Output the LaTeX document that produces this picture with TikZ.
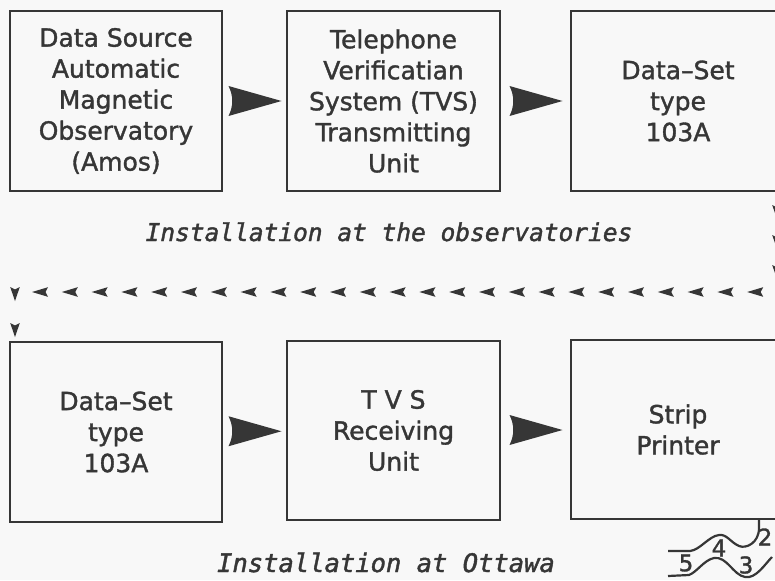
\documentclass[tikz,border=0pt]{standalone}
\usepackage{fontspec}
\setmainfont{DejaVu Sans}[FakeBold=1.4]
\newfontfamily\capfont{DejaVu Sans Mono}[FakeBold=1.6]
\usetikzlibrary{calc}
\definecolor{ink}{HTML}{363636}
\definecolor{paper}{HTML}{F8F8F8}
\tikzset{
  box/.style={draw=ink, line width=2.4pt, minimum width=212pt, minimum height=180pt,
    inner sep=0pt, align=center, text=ink, font=\fontsize{25}{31}\selectfont},
  captext/.style={text=ink, inner sep=0pt, anchor=base},
  bigarrow/.pic={\fill[ink] (27,0) -- (-26,-15) .. controls (-21,-5) and (-21,5) .. (-26,15) -- cycle;},
  larrow/.pic={\fill[ink] (-8,0) -- (8,-4.8) -- (5.5,0) -- (8,4.8) -- cycle;},
  darrow/.pic={\fill[ink] (0,7) -- (-4.8,-7) -- (0,-4.5) -- (4.8,-7) -- cycle;},
  squig/.style={draw=ink, line width=2.2pt},
  digit/.style={text=ink, inner sep=0pt, font=\fontsize{23}{23}\selectfont}
}
\begin{document}
\begin{tikzpicture}[x=1pt,y=-1pt]
\useasboundingbox (0,0) rectangle (775,580);
\fill[paper] (0,0) rectangle (775,580);
\clip (0,0) rectangle (775,580);

% top row
\node[box] (src) at (116,101) {Data Source\\Automatic\\Magnetic\\Observatory\\(Amos)};
\node[box, minimum width=213pt] (tvs) at (393.5,101) {Telephone\\Verificatian\\System (TVS)\\Transmitting\\Unit};
\node[box, minimum width=214pt] (ds) at (678,101) {Data–Set\\type\\103A};

% bottom row
\node[box] (ds2) at (116,432) {Data–Set\\type\\103A};
\node[box, minimum width=213pt, minimum height=179pt] (tvsr) at (393.5,430.5) {T V S\\Receiving\\Unit};
\node[box, minimum width=214pt, minimum height=179pt] (prn) at (678,429.5) {Strip\\Printer};

% big arrows
\pic at ($(src.east)!0.5!(tvs.west)$) {bigarrow};
\pic at ($(tvs.east)!0.5!(ds.west)$) {bigarrow};
\pic at ($(ds2.east)!0.5!(tvsr.west)$) {bigarrow};
\pic at ($(tvsr.east)!0.5!(prn.west)$) {bigarrow};

% dotted arrow line from observatories to Ottawa
\foreach \y in {212,242,272} \pic at (777,\y) {darrow};
\foreach \i in {0,...,24} \pic at ({40+\i*29.8},292) {larrow};
\pic at (15,294) {darrow};
\pic at (15,330) {darrow};

% captions
\node[captext, font=\capfont\itshape\fontsize{24.5}{24.5}\selectfont] (cap1) at (389,241) {Installation at the observatories};
\node[captext, font=\capfont\itshape\fontsize{25.5}{25.5}\selectfont] (cap2) at (386,572) {Installation at Ottawa};

% paper tape squiggle
\draw[squig] (759,519) -- (759,528) .. controls (759,543) and (746,549) .. (739,546)
  .. controls (730,542) and (727,534) .. (719,535)
  .. controls (709,536) and (700,550) .. (690,551) -- (668,551);
\draw[squig] (668,576) -- (689,575) .. controls (697,572) and (704,560) .. (714,558)
  .. controls (727,556) and (733,575) .. (745,577)
  .. controls (756,579) and (765,564) .. (772,557);
\node[digit] (d5) at (686,563) {5};
\node[digit] (d4) at (719,548) {4};
\node[digit] (d3) at (746,565) {3};
\node[digit] (d2) at (765,537) {2};
\end{tikzpicture}
\end{document}
